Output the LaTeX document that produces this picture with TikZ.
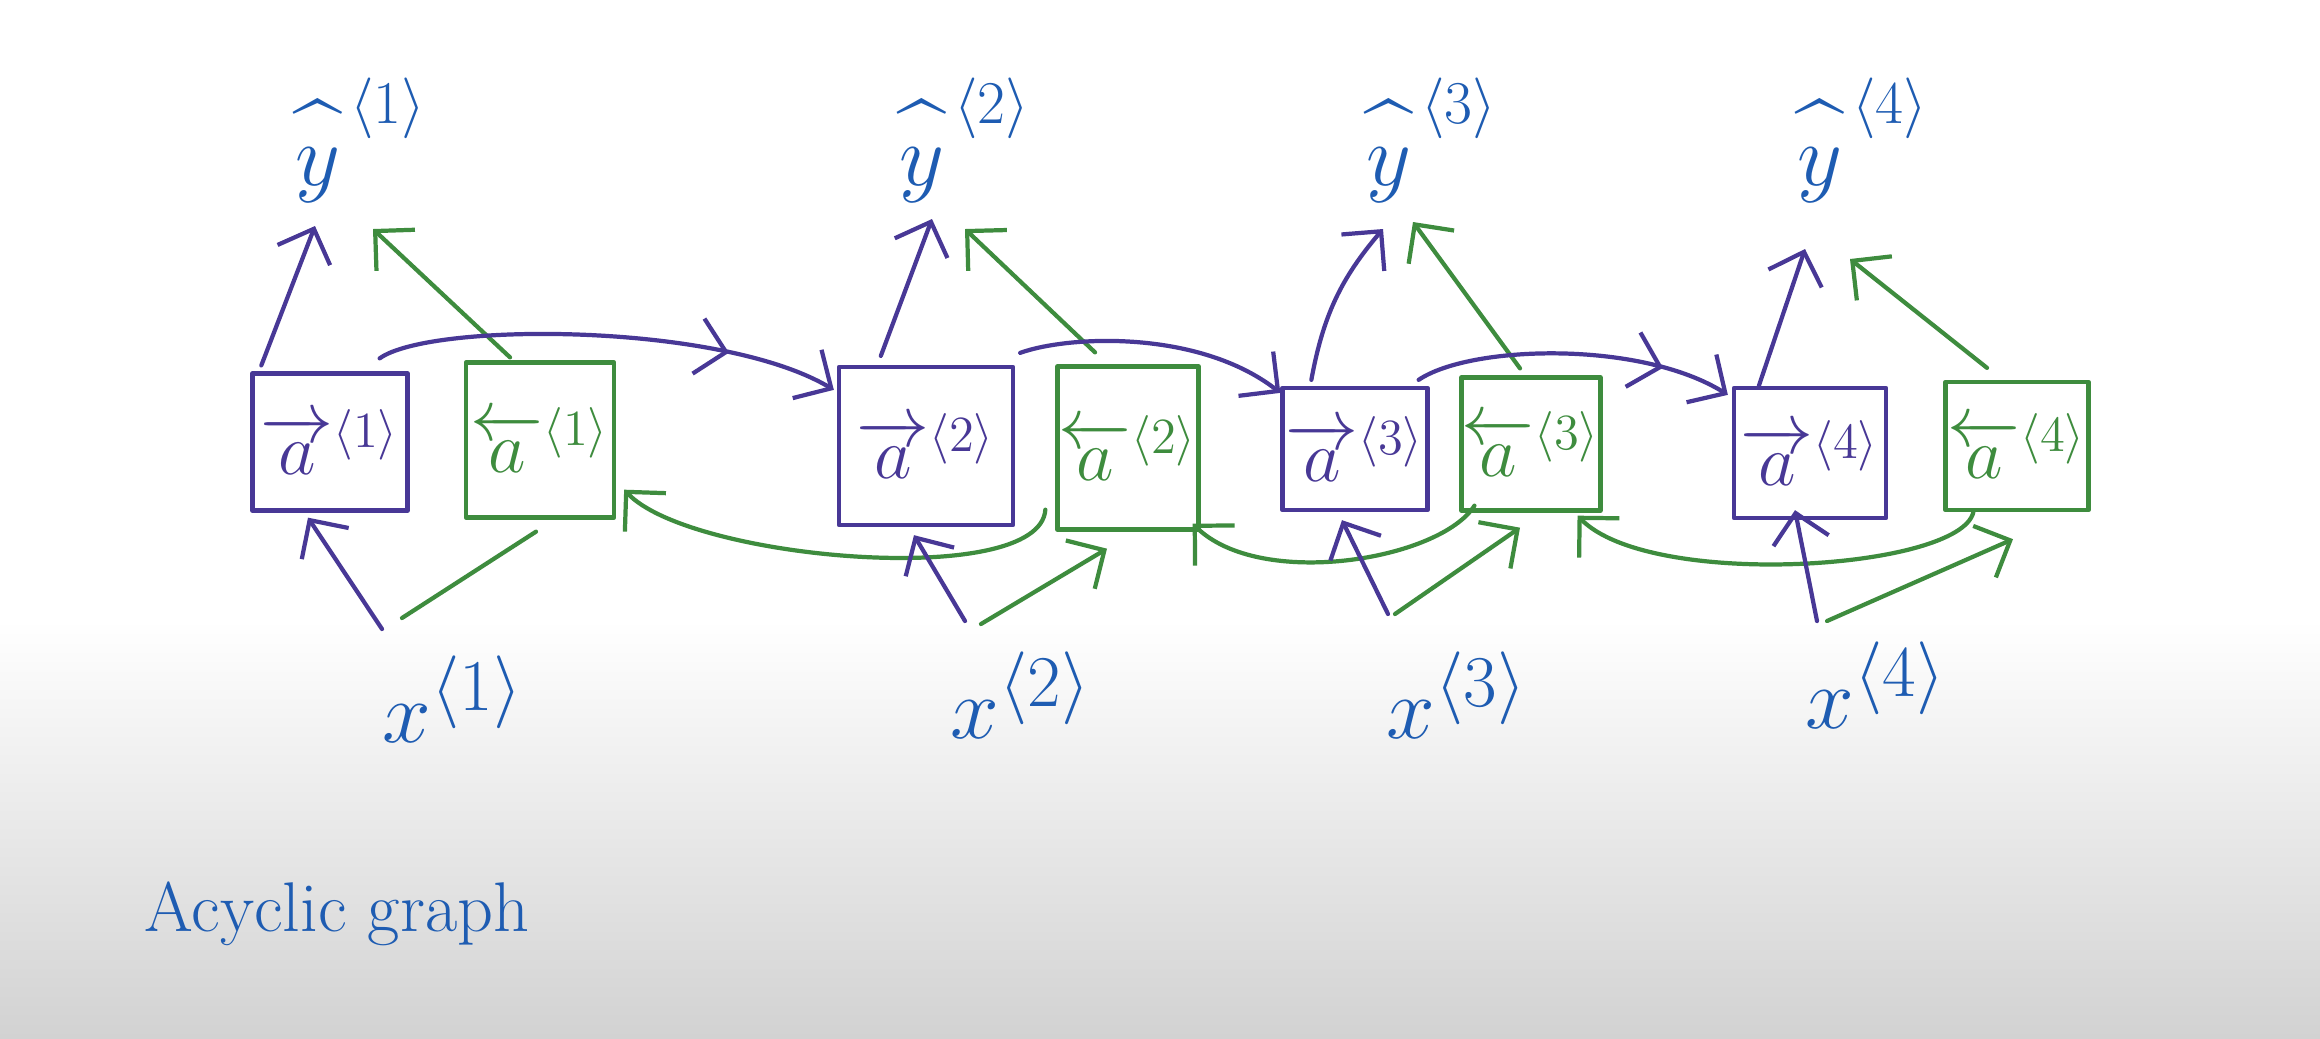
\documentclass[tikz,border=0pt]{standalone}
\usepackage{amsmath}
\usetikzlibrary{arrows.meta,calc,decorations.markings}

\definecolor{fwd}{RGB}{72,56,150}
\definecolor{bwd}{RGB}{62,140,62}
\definecolor{ink}{RGB}{30,92,178}
\definecolor{paper}{RGB}{210,210,210}

% a hat that floats well above the letter, as in handwriting
\newcommand{\tallhat}[1]{\widehat{\vphantom{T}#1}}

\tikzset{
  pen/.style={line width=1.2pt, line cap=round, line join=round},
  tip/.style={-{Straight Barb[length=8pt,width=16pt]}},
  fwdline/.style={pen, draw=fwd, color=fwd},
  bwdline/.style={pen, draw=bwd, color=bwd},
  midtick/.style={postaction={decorate, decoration={markings,
      mark=at position #1 with {\arrow{Straight Barb[length=8pt,width=16pt]}}}}},
  fcell/.style={pen, draw=fwd, text=fwd, inner sep=0pt, font=\fontsize{22}{26}\selectfont},
  bcell/.style={pen, draw=bwd, text=bwd, inner sep=0pt, font=\fontsize{22}{26}\selectfont},
  ylab/.style={text=ink, inner sep=0pt, font=\fontsize{24}{28}\selectfont},
  xlab/.style={text=ink, inner sep=0pt, font=\fontsize{28}{32}\selectfont},
  caption/.style={text=ink, inner sep=0pt, font=\fontsize{20}{24}\selectfont},
}

\begin{document}
\begin{tikzpicture}[x=0.01cm, y=-0.01cm]
% page and whiteboard background
\useasboundingbox (0,0) rectangle (2320,1038);
\fill[white] (0,0) rectangle (2320,1038);
\shade[top color=white, bottom color=paper] (0,620) rectangle (2320,1038);

% forward activations
\node[fcell, minimum width=1.55cm, minimum height=1.37cm] (F1) at (330,442) {$\overrightarrow{a}^{\langle 1\rangle}$};
\node[fcell, minimum width=1.74cm, minimum height=1.58cm] (F2) at (926,446) {$\overrightarrow{a}^{\langle 2\rangle}$};
\node[fcell, minimum width=1.45cm, minimum height=1.22cm] (F3) at (1355,449) {$\overrightarrow{a}^{\langle 3\rangle}$};
\node[fcell, minimum width=1.52cm, minimum height=1.30cm] (F4) at (1810,453) {$\overrightarrow{a}^{\langle 4\rangle}$};

% backward activations
\node[bcell, minimum width=1.48cm, minimum height=1.55cm] (B1) at (540,440) {$\overleftarrow{a}^{\langle 1\rangle}$};
\node[bcell, minimum width=1.41cm, minimum height=1.63cm] (B2) at (1128,448) {$\overleftarrow{a}^{\langle 2\rangle}$};
\node[bcell, minimum width=1.33cm, minimum height=1.33cm] (B3) at (1531,444) {$\overleftarrow{a}^{\langle 3\rangle}$};
\node[bcell, minimum width=1.43cm, minimum height=1.28cm] (B4) at (2017,446) {$\overleftarrow{a}^{\langle 4\rangle}$};

% predictions
\node[ylab] (y1) at (361,140) {$\tallhat{y}^{\,\langle 1\rangle}$};
\node[ylab] (y2) at (965,140) {$\tallhat{y}^{\,\langle 2\rangle}$};
\node[ylab] (y3) at (1432,140) {$\tallhat{y}^{\,\langle 3\rangle}$};
\node[ylab] (y4) at (1863,140) {$\tallhat{y}^{\,\langle 4\rangle}$};

% inputs
\node[xlab] (x1) at (453,699) {$x^{\langle 1\rangle}$};
\node[xlab] (x2) at (1021,695) {$x^{\langle 2\rangle}$};
\node[xlab] (x3) at (1457,695) {$x^{\langle 3\rangle}$};
\node[xlab] (x4) at (1876,685) {$x^{\langle 4\rangle}$};

\node[caption] (title) at (337,914) {Acyclic graph};

% outputs from both directions
\draw[fwdline,tip] ($(F1.north west)+(11,-6)$) -- ($(y1.center)+(-46,86)$);
\draw[bwdline,tip] ($(B1.north)+(-30,-3)$) -- ($(y1.center)+(12,89)$);
\draw[fwdline,tip] ($(F2.north west)+(44,-9)$) -- ($(y2.center)+(-33,79)$);
\draw[bwdline,tip] ($(B2.north)+(-33,-12)$) -- ($(y2.center)+(0,89)$);
\draw[fwdline,tip] ($(F3.north west)+(31,-6)$) to[bend left=15] ($(y3.center)+(-49,89)$);
\draw[bwdline,tip] ($(B3.north)+(-11,-7)$) -- ($(y3.center)+(-19,82)$);
\draw[fwdline,tip] ($(F4.north west)+(27,0)$) -- ($(y4.center)+(-58,109)$);
\draw[bwdline,tip] ($(B4.north)+(-30,-12)$) -- ($(y4.center)+(-13,119)$);

% forward recurrence
\draw[fwdline,tip,midtick=0.76] ($(F1.north east)+(-30,-13)$) .. controls (430,322) and (720,322) .. ($(F2.north west)+(-3,25)$);
\draw[fwdline,tip] ($(F2.north east)+(5,-12)$) .. controls (1070,335) and (1200,330) .. ($(F3.north west)+(0,7)$);
\draw[fwdline,tip,midtick=0.78] ($(F3.north east)+(-11,-6)$) .. controls (1470,345) and (1640,340) .. ($(F4.north west)+(-4,9)$);

% backward recurrence
\draw[bwdline,tip] ($(B2.south west)+(-10,-22)$) .. controls (1040,590) and (690,560) .. ($(B1.south east)+(8,-30)$);
\draw[bwdline,tip] ($(B3.south west)+(15,-7)$) .. controls (1440,560) and (1260,590) .. ($(B2.south east)+(-8,-8)$);
\draw[bwdline,tip] ($(B4.south west)+(30,0)$) .. controls (1960,570) and (1650,590) .. ($(B3.south east)+(-25,3)$);

% inputs into both directions
\draw[fwdline,tip] ($(x1.center)+(-71,-70)$) -- ($(F1.south)+(-22,5)$);
\draw[bwdline] ($(x1.center)+(-51,-81)$) -- ($(B1.south)+(-4,12)$);
\draw[fwdline,tip] ($(x2.center)+(-56,-74)$) -- ($(F2.south)+(-12,8)$);
\draw[bwdline,tip] ($(x2.center)+(-40,-71)$) -- ($(B2.south)+(-21,17)$);
\draw[fwdline,tip] ($(x3.center)+(-69,-81)$) -- ($(F3.south)+(-13,8)$);
\draw[bwdline,tip] ($(x3.center)+(-62,-81)$) -- ($(B3.south)+(-11,15)$);
\draw[fwdline,tip] ($(x4.center)+(-59,-64)$) -- ($(F4.south)+(-15,-10)$);
\draw[bwdline,tip] ($(x4.center)+(-49,-64)$) -- ($(B4.south)+(-4,27)$);
\end{tikzpicture}
\end{document}
